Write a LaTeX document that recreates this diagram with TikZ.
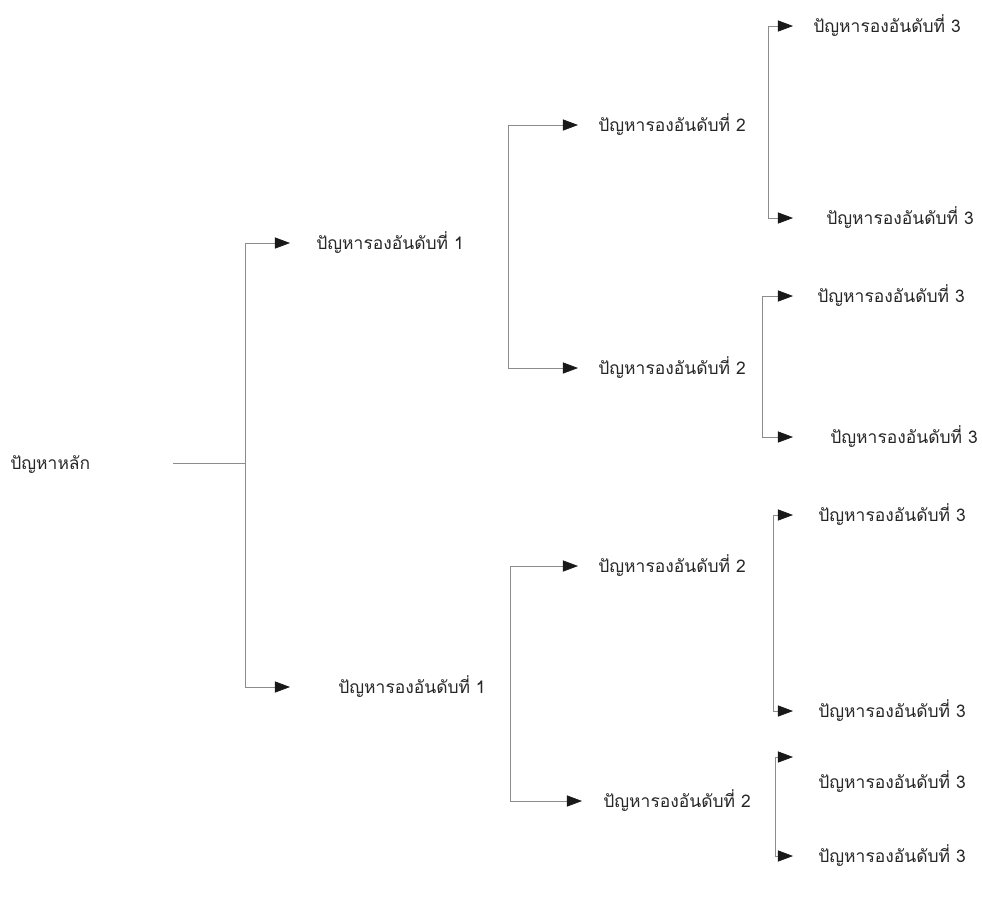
\documentclass[tikz,border=0pt]{standalone}
\usepackage{fontspec}
\newfontfamily\thaifont[Script=Thai]{Loma}
\usetikzlibrary{arrows.meta}

\begin{document}
\begin{tikzpicture}[
        x=0.025cm, y=-0.025cm,
        lbl/.style={anchor=west, inner sep=0pt, text=black!85,
            font=\thaifont\fontsize{12.4}{14}\selectfont},
        wire/.style={draw=black!45, line width=0.5pt},
        arr/.style={wire, shorten >=#1*0.025cm,
            -{Triangle[length=3.8mm,width=2.8mm,color=black!90]}},
        arr/.default=22
    ]
    \useasboundingbox (0,0) rectangle (982,897);

    % Problem
    \node[lbl] (root) at (10,465) {ปัญหาหลัก};
    \coordinate (r0) at (173,463);
    \coordinate (j0) at (245,463);

    % Level 1
    \node[lbl] (p1a) at (316,243) {ปัญหารองอันดับที่ 1};
    \node[lbl] (p1b) at (338,687) {ปัญหารองอันดับที่ 1};

    % Level 2
    \node[lbl] (p2a) at (598,125) {ปัญหารองอันดับที่ 2};
    \node[lbl] (p2b) at (598,368) {ปัญหารองอันดับที่ 2};
    \node[lbl] (p2c) at (598,566) {ปัญหารองอันดับที่ 2};
    \node[lbl] (p2d) at (603,801) {ปัญหารองอันดับที่ 2};
    \coordinate (j1a) at (508,243);
    \coordinate (j1b) at (510,687);

    % Level 3
    \node[lbl] (p3a) at (813,26)  {ปัญหารองอันดับที่ 3};
    \node[lbl] (p3b) at (826,218) {ปัญหารองอันดับที่ 3};
    \node[lbl] (p3c) at (817,296) {ปัญหารองอันดับที่ 3};
    \node[lbl] (p3d) at (830,437) {ปัญหารองอันดับที่ 3};
    \node[lbl] (p3e) at (818,515) {ปัญหารองอันดับที่ 3};
    \node[lbl] (p3f) at (818,711) {ปัญหารองอันดับที่ 3};
    \node[lbl] (p3g) at (818,782) {ปัญหารองอันดับที่ 3};
    \node[lbl] (p3h) at (818,856) {ปัญหารองอันดับที่ 3};
    \coordinate (j2a) at (768,125);
    \coordinate (j2b) at (762,368);
    \coordinate (j2c) at (773,566);
    \coordinate (j2d) at (775,801);
    \coordinate (t3g) at (793,757);

    % Connectors
    \draw[wire] (r0) -- (j0);
    \draw[arr=26] (j0) |- (p1a);
    \draw[arr=48] (j0) |- (p1b);
    \draw[arr=20] (j1a) |- (p2a);
    \draw[arr=20] (j1a) |- (p2b);
    \draw[arr=20] (j1b) |- (p2c);
    \draw[arr=21] (j1b) |- (p2d);
    \draw[arr=20] (j2a) |- (p3a);
    \draw[arr=33] (j2a) |- (p3b);
    \draw[arr=24] (j2b) |- (p3c);
    \draw[arr=37] (j2b) |- (p3d);
    \draw[arr=25] (j2c) |- (p3e);
    \draw[arr=25] (j2c) |- (p3f);
    \draw[arr=0] (j2d) |- (t3g);
    \draw[arr=25] (j2d) |- (p3h);

\end{tikzpicture}
\end{document}
